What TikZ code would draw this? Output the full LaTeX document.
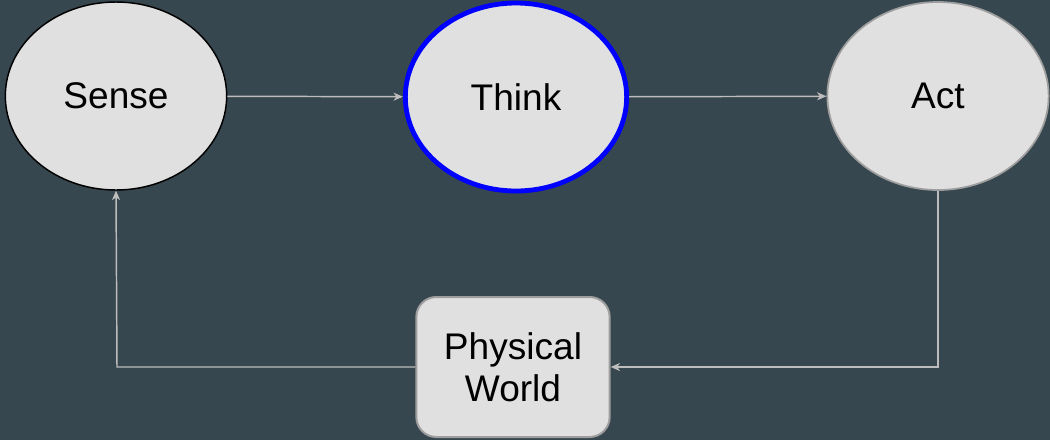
\documentclass[tikz,border=0pt]{standalone}
\usepackage{fontspec}
\setmainfont{Liberation Sans}
\usetikzlibrary{shapes.geometric,arrows.meta}
\definecolor{slate}{HTML}{37474F}
\definecolor{nodefill}{HTML}{E0E0E0}
\definecolor{linegray}{HTML}{BDBDBD}
\definecolor{rimgray}{HTML}{9E9E9E}
\begin{document}
\begin{tikzpicture}[x=0.75pt, y=-0.75pt, font=\fontsize{27.8}{31.5}\selectfont]
    % Styles
    \tikzset{stage node/.style={ellipse, fill=nodefill, inner sep=0pt, minimum width=166pt, minimum height=141pt},
             world node/.style={rectangle, rounded corners=15pt, fill=nodefill, draw=rimgray, line width=1.5pt,
                                minimum width=145pt, minimum height=105pt, align=center},
             flow/.style={draw=linegray, line width=1.1pt, -{Stealth[length=7pt, width=6pt, inset=2pt]}}}

    % Background
    \fill[slate] (0,0) rectangle (1050,440);

    % Stage nodes: Sense, Think, Act
    \node[stage node, draw=black, line width=1.1pt] (sense) at (116, 96) {Sense};
    \node[stage node, draw=blue, line width=3.6pt] (think) at (516, 97) {Think};
    \node[stage node, draw=rimgray, line width=1.3pt] (act) at (938, 96) {Act};

    % Physical world box
    \node[world node] (world) at (513, 367) {Physical\\World};

    % Corners of the feedback loop
    \coordinate (actcorner) at (938, 367);
    \coordinate (sensecorner) at (117, 367);

    % Forward flow
    \draw[flow] (sense) -- (think);
    \draw[flow] (think) -- (act);

    % Feedback through the world
    \draw[flow] (act.south) -- (actcorner) -- (world.east);
    \draw[flow] (world.west) -- (sensecorner) -- (sense.south);
\end{tikzpicture}
\end{document}
